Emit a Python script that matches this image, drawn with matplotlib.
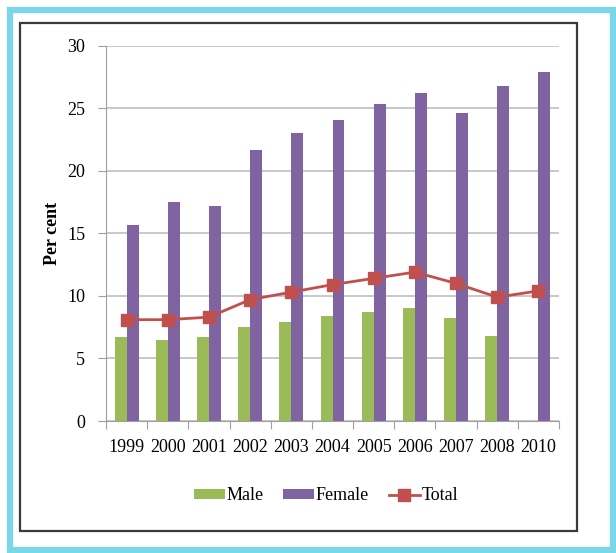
import numpy as np
import matplotlib.pyplot as plt
from matplotlib.patches import Rectangle

# datos
years = ['1999', '2000', '2001', '2002', '2003', '2004', '2005', '2006', '2007', '2008', '2010']
male = [6.7, 6.5, 6.7, 7.5, 7.9, 8.4, 8.7, 9.0, 8.2, 6.8, np.nan]
female = [15.7, 17.5, 17.2, 21.7, 23.0, 24.1, 25.3, 26.2, 24.6, 26.8, 27.9]
total = [8.1, 8.1, 8.3, 9.7, 10.3, 10.9, 11.4, 11.9, 11.0, 9.9, 10.4]

plt.rcParams['font.family'] = ['Liberation Serif', 'DejaVu Serif']

fig = plt.figure(figsize=(6.16, 5.53), dpi=100)
W, H = 616, 553

# marco cian exterior y marco negro interior
fig.patches.append(Rectangle((10 / W, 1 - 550 / H), 603 / W, 540 / H, transform=fig.transFigure,
                             fill=False, edgecolor='#7AD7EA', linewidth=4.5, zorder=0))
fig.patches.append(Rectangle((20 / W, 1 - 531 / H), 557 / W, 508 / H, transform=fig.transFigure,
                             fill=False, edgecolor='#3a3a3a', linewidth=1.6, zorder=0))

ax = fig.add_axes([106 / W, 1 - 421 / H, 453 / W, 375.3 / H])
x = np.arange(len(years))
w = 0.29

b1 = ax.bar(x - w / 2, male, w, color='#9BBB59', label='Male', zorder=2)
b2 = ax.bar(x + w / 2, female, w, color='#8064A2', label='Female', zorder=2)
l1, = ax.plot(x, total, color='#C0504D', marker='s', markersize=9, linewidth=2, label='Total', zorder=3)

ax.set_xlim(-0.5, len(years) - 0.5)
ax.set_ylim(0, 30)
ax.set_yticks(range(0, 31, 5))
ax.grid(axis='y', color='#BFBFBF', linewidth=1.2, zorder=0)
ax.set_axisbelow(True)

ax.set_xticks(np.arange(-0.5, len(years), 1))
ax.set_xticklabels([])
ax.set_xticks(x, minor=True)
ax.set_xticklabels(years, minor=True)
ax.tick_params(axis='x', which='minor', length=0, pad=13, labelsize=13)
ax.tick_params(axis='x', which='major', length=6, color='#A0A0A0')
ax.tick_params(axis='y', length=6, color='#A0A0A0', pad=9, labelsize=13)

for s in ['top', 'right']:
    ax.spines[s].set_visible(False)
for s in ['left', 'bottom']:
    ax.spines[s].set_color('#A0A0A0')

ax.set_ylabel('Per cent', fontsize=13, fontweight='bold', labelpad=4)

ax.legend([b1, b2, l1], ['Male', 'Female', 'Total'], loc='center',
          bbox_to_anchor=(326 / W, 1 - 496 / H), bbox_transform=fig.transFigure,
          ncol=3, frameon=False, fontsize=13, handlelength=1.7, handleheight=0.45,
          handletextpad=0.1, columnspacing=1.1)

plt.savefig('out.png', dpi=100)
